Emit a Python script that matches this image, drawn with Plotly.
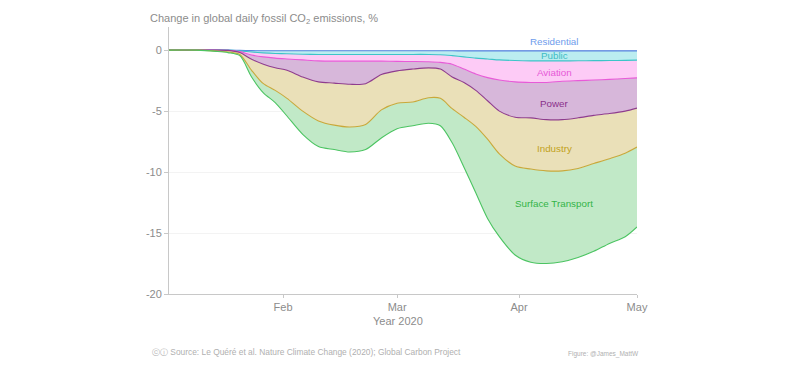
import plotly.graph_objects as go

dates = ["2020-01-03", "2020-01-10", "2020-01-15", "2020-01-18", "2020-01-21", "2020-01-24",
         "2020-01-27", "2020-01-30", "2020-02-02", "2020-02-06", "2020-02-10", "2020-02-14",
         "2020-02-18", "2020-02-22", "2020-02-26", "2020-03-01", "2020-03-05", "2020-03-09",
         "2020-03-12", "2020-03-15", "2020-03-18", "2020-03-21", "2020-03-24", "2020-03-27",
         "2020-03-31", "2020-04-04", "2020-04-08", "2020-04-12", "2020-04-16", "2020-04-20",
         "2020-04-24", "2020-04-28", "2020-05-01"]

residential = [0, 0, 0, 0, -0.02, -0.04, -0.05, -0.05, -0.05, -0.05, -0.05, -0.05, -0.05, -0.05,
               -0.05, -0.05, -0.05, -0.05, -0.05, -0.05, -0.06, -0.06, -0.06, -0.06, -0.06, -0.06,
               -0.06, -0.06, -0.06, -0.06, -0.06, -0.06, -0.06]
public = [0, 0, 0, 0, -0.04, -0.11, -0.17, -0.22, -0.25, -0.28, -0.30, -0.30, -0.30, -0.30, -0.30,
          -0.30, -0.30, -0.30, -0.32, -0.40, -0.49, -0.59, -0.66, -0.74, -0.79, -0.82, -0.82, -0.82,
          -0.81, -0.80, -0.79, -0.78, -0.76]
aviation = [0, 0, 0, -0.02, -0.06, -0.25, -0.33, -0.38, -0.42, -0.47, -0.53, -0.55, -0.55, -0.55,
            -0.55, -0.57, -0.58, -0.60, -0.63, -0.70, -1.00, -1.30, -1.53, -1.65, -1.75, -1.77,
            -1.77, -1.67, -1.63, -1.59, -1.55, -1.48, -1.45]
power = [0, 0, 0, 0, -0.08, -0.35, -0.60, -0.80, -0.93, -1.40, -1.72, -1.80, -1.90, -1.85, -1.10,
         -0.78, -0.62, -0.50, -0.55, -1.05, -1.10, -1.35, -1.90, -2.55, -2.90, -2.90, -3.05, -3.15,
         -3.05, -2.90, -2.80, -2.68, -2.48]
industry = [0, 0, -0.08, -0.13, -0.15, -0.90, -1.60, -1.85, -2.30, -2.80, -3.20, -3.45, -3.50,
            -3.35, -2.90, -2.65, -2.70, -2.45, -2.40, -2.60, -2.85, -2.95, -3.15, -3.50, -4.00,
            -4.20, -4.20, -4.20, -4.15, -3.95, -3.70, -3.45, -3.20]
surface_transport = [0, 0, -0.02, -0.05, -0.10, -0.55, -0.75, -1.00, -1.45, -1.90, -2.10, -2.00,
                     -2.05, -2.05, -2.30, -2.10, -1.95, -2.10, -2.25, -2.80, -4.10, -5.45, -6.50,
                     -6.80, -7.30, -7.65, -7.60, -7.45, -7.30, -7.20, -6.95, -6.85, -6.55]

sectors = ["Residential", "Public", "Aviation", "Power", "Industry", "Surface Transport"]
series = [residential, public, aviation, power, industry, surface_transport]
line_colors = ["#5a86e0", "#3cc4c8", "#e85ad8", "#8e3c8e", "#c9a83a", "#4cc462"]
fill_colors = ["rgba(120,160,235,0.45)", "rgba(150,228,232,0.65)", "rgba(252,190,244,0.8)",
               "rgba(208,170,212,0.85)", "rgba(233,222,180,0.95)", "rgba(190,232,196,0.95)"]
label_colors = ["#6e9cec", "#3cbcc4", "#e65ad6", "#8a2f8a", "#c2a220", "#34b448"]
label_x = "2020-04-10"
label_y = [0.74, -0.41, -1.8, -4.35, -8.1, -12.55]

FONT = "Arial, Liberation Sans, sans-serif"

# page body has an 8px margin: figure is 792x360 so the plot area lands at x 169-637, y 27-294
W, H = 792, 360
OFF = 8

fig = go.Figure()
for name, vals, lc, fc in zip(sectors, series, line_colors, fill_colors):
    fig.add_trace(go.Scatter(
        x=dates, y=vals, name=name, stackgroup="one", mode="lines",
        line=dict(color=lc, width=1.1, shape="spline", smoothing=0.8),
        fillcolor=fc, showlegend=False, hoverinfo="x+y+name"))

for name, ly, col in zip(sectors, label_y, label_colors):
    fig.add_annotation(x=label_x, y=ly, text=name, showarrow=False,
                       font=dict(family=FONT, size=9.8, color=col))

fig.update_layout(
    width=W, height=H,
    margin=dict(l=169 - OFF, r=W + OFF - 637, t=27 - OFF, b=H + OFF - 294),
    paper_bgcolor="white", plot_bgcolor="white",
    font=dict(family=FONT, color="#8c8c8c", size=11),
    title=dict(text="Change in global daily fossil CO<sub>2</sub> emissions, %",
               x=(150 - OFF) / W, xanchor="left", y=1 - (18 - OFF) / H, yanchor="middle",
               font=dict(family=FONT, size=11, color="#8c8c8c")),
    xaxis=dict(type="date", range=["2020-01-03", "2020-05-01"],
               tickvals=["2020-02-01", "2020-03-01", "2020-04-01", "2020-05-01"],
               ticktext=["Feb", "Mar", "Apr", "May"],
               showgrid=False, zeroline=False, showline=True, linecolor="#c8c8c8",
               linewidth=1, ticks="outside", ticklen=3, tickcolor="#c8c8c8",
               tickfont=dict(size=11, color="#8c8c8c")),
    yaxis=dict(range=[-20, 1.9], tickvals=[0, -5, -10, -15, -20],
               ticktext=["0", "-5", "-10", "-15", "-20"],
               showgrid=True, gridcolor="#f3f3f3", zeroline=False,
               showline=True, linecolor="#c8c8c8", linewidth=1,
               ticks="outside", ticklen=4, tickcolor="#c8c8c8",
               tickfont=dict(size=11, color="#8c8c8c")),
)

fig.add_annotation(xref="paper", yref="paper", x=(398 - 169) / 468, y=(294 - 321) / 267,
                   text="Year 2020", showarrow=False, yanchor="middle",
                   font=dict(family=FONT, size=11, color="#8c8c8c"))
fig.add_annotation(xref="paper", yref="paper", x=(150 - 169) / 468, y=(294 - 352) / 267,
                   xanchor="left", yanchor="middle", showarrow=False,
                   text="ⓒⓘ Source: Le Quéré et al. Nature Climate Change (2020); Global Carbon Project",
                   font=dict(family=FONT, size=8.4, color="#b0b0b0"))
fig.add_annotation(xref="paper", yref="paper", x=(566 - 169) / 468, y=(294 - 354) / 267,
                   xanchor="left", yanchor="middle", showarrow=False,
                   text="Figure: @James_MattW",
                   font=dict(family=FONT, size=6.5, color="#b0b0b0"))

fig.write_html("out.html")
